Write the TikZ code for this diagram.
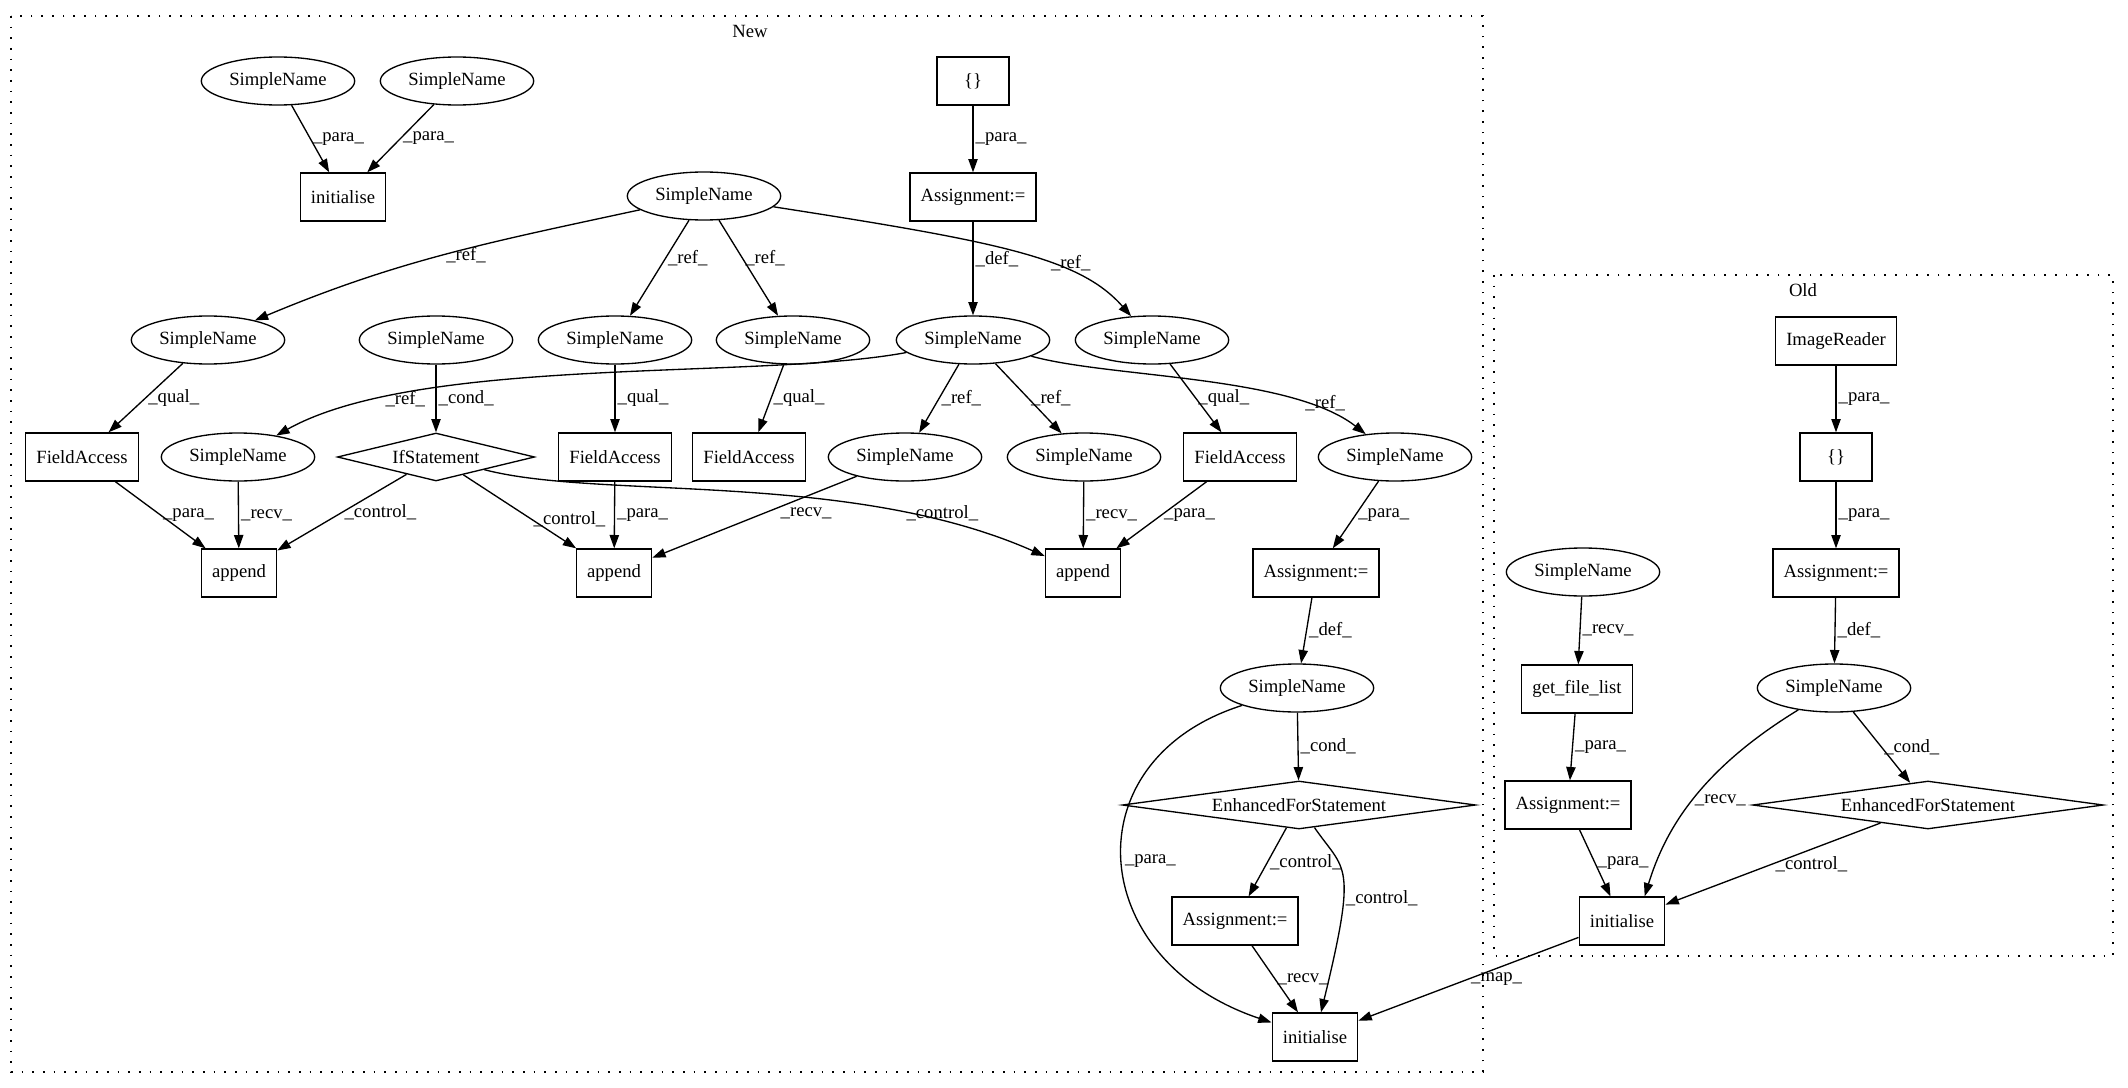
\documentclass[tikz,border=0pt]{standalone}
\usepackage{fontspec}
\setmainfont{Liberation Serif}
\usetikzlibrary{ shapes.geometric, % For ellipse and diamond
                 arrows.meta,      % For the filled arrow tips
               }

\tikzset{
  sname/.style={ellipse, draw, minimum width=115pt, minimum height=36pt, inner sep=0pt},
  stmt/.style={rectangle, draw, minimum width=54pt, minimum height=36pt, inner xsep=8pt, inner ysep=0pt},
  cstmt/.style={diamond, draw, aspect=6, inner sep=0pt, minimum height=36pt},
  conn/.style={draw, -{Triangle[length=10pt,width=7pt]}},
  lbl/.style={anchor=west, inner sep=1.5pt},
  cluster/.style={draw, dash pattern=on 1.2pt off 6.8pt},
}

\begin{document}
\begin{tikzpicture}[x=0.75pt, y=-0.75pt, line width=1pt, font=\fontsize{14}{16}\selectfont] % coordinates in pixels
  \useasboundingbox (0,0) rectangle (2128,1088);

  % the two clusters
  \draw[cluster] (11,16) rectangle (1483,1072);
  \node (newlab) at (750,31) {New};
  \draw[cluster] (1494,275) rectangle (2113,956);
  \node (oldlab) at (1803,290) {Old};

  % New
  \node[sname] (sna) at (278,81) {SimpleName};
  \node[sname] (snb) at (457,81) {SimpleName};
  \node[stmt] (inittop) at (343,197) {initialise};
  \node[stmt] (braces) at (973,81) {\{\}};
  \node[stmt] (assign) at (973,197) {Assignment:=};
  \node[sname] (hub) at (704,196) {SimpleName};

  \node[sname] (snd) at (208,340) {SimpleName};
  \node[sname] (cond) at (436,340) {SimpleName};
  \node[sname] (snf) at (615,340) {SimpleName};
  \node[sname] (sng) at (793,340) {SimpleName};
  \node[sname] (def) at (973,340) {SimpleName};
  \node[sname] (snj) at (1152,340) {SimpleName};

  \node[stmt] (fa1) at (82,457) {FieldAccess};
  \node[sname] (recva) at (238,457) {SimpleName};
  \node[cstmt, minimum width=148pt] (ifst) at (436,457) {IfStatement};
  \node[stmt] (fa2) at (615,457) {FieldAccess};
  \node[stmt] (fa3) at (749,457) {FieldAccess};
  \node[sname] (recvb) at (905,457) {SimpleName};
  \node[sname] (recvc) at (1084,457) {SimpleName};
  \node[stmt] (fa4) at (1240,457) {FieldAccess};
  \node[sname] (loopsrc) at (1395,457) {SimpleName};

  \node[stmt] (app1) at (239,573) {append};
  \node[stmt] (app2) at (614,573) {append};
  \node[stmt] (app3) at (1083,573) {append};
  \node[stmt] (assigntwo) at (1316,573) {Assignment:=};

  \node[sname] (loopvar) at (1297,688) {SimpleName};
  \node[cstmt, minimum width=265pt] (forst) at (1299,805) {EnhancedForStatement};
  \node[stmt] (assignthree) at (1235,921) {Assignment:=};
  \node[stmt] (initbot) at (1315,1037) {initialise};

  % Old
  \node[stmt] (reader) at (1836,341) {ImageReader};
  \node[stmt] (obraces) at (1836,457) {\{\}};
  \node[stmt] (oassign) at (1836,573) {Assignment:=};
  \node[sname] (orecv) at (1583,572) {SimpleName};
  \node[sname] (ovar) at (1834,688) {SimpleName};
  \node[stmt] (filelist) at (1577,689) {get\_file\_list};
  \node[stmt] (oassigntwo) at (1568,805) {Assignment:=};
  \node[cstmt, minimum width=263pt] (oforst) at (1928,805) {EnhancedForStatement};
  \node[stmt] (oinit) at (1622,921) {initialise};

  \draw[conn] (sna) -- node[lbl] {\_para\_} (inittop);
  \draw[conn] (snb) -- node[lbl] {\_para\_} (inittop);
  \draw[conn] (braces) -- node[lbl] {\_para\_} (assign);
  \draw[conn] (assign) -- node[lbl, pos=.4] {\_def\_} (def);
  \draw[conn] (hub) .. controls (486,243) and (399,260) .. node[lbl] {\_ref\_} (snd);
  \draw[conn] (hub) -- node[lbl, pos=.4] {\_ref\_} (snf);
  \draw[conn] (hub) -- node[lbl, pos=.4] {\_ref\_} (sng);
  \draw[conn] (hub) .. controls (1000,242) and (1080,258) .. node[lbl, pos=.6] {\_ref\_} (snj);
  \draw[conn] (snd) -- node[lbl] {\_qual\_} (fa1);
  \draw[conn] (cond) -- node[lbl] {\_cond\_} (ifst);
  \draw[conn] (snf) -- node[lbl] {\_qual\_} (fa2);
  \draw[conn] (sng) -- node[lbl] {\_qual\_} (fa3);
  \draw[conn] (snj) -- node[lbl] {\_qual\_} (fa4);
  \draw[conn] (def) .. controls (760,380) and (420,355) .. node[lbl, pos=.8] {\_ref\_} (recva);
  \draw[conn] (def) -- node[lbl] {\_ref\_} (recvb);
  \draw[conn] (def) -- node[lbl] {\_ref\_} (recvc);
  \draw[conn] (def) .. controls (1110,378) and (1290,375) .. node[lbl, pos=.78] {\_ref\_} (loopsrc);
  \draw[conn] (fa1) -- node[lbl] {\_para\_} (app1);
  \draw[conn] (recva) -- node[lbl] {\_recv\_} (app1);
  \draw[conn] (ifst) -- node[lbl] {\_control\_} (app1);
  \draw[conn] (ifst) -- node[lbl, pos=.6] {\_control\_} (app2);
  \draw[conn] (fa2) -- node[lbl] {\_para\_} (app2);
  \draw[conn] (recvb) -- node[lbl, pos=.45, xshift=10pt] {\_recv\_} (app2);
  \draw[conn] (ifst) .. controls (600,500) and (850,470) .. node[lbl, pos=.77] {\_control\_} (app3);
  \draw[conn] (recvc) -- node[lbl] {\_recv\_} (app3);
  \draw[conn] (fa4) -- node[lbl] {\_para\_} (app3);
  \draw[conn] (loopsrc) -- node[lbl] {\_para\_} (assigntwo);
  \draw[conn] (assigntwo) -- node[lbl] {\_def\_} (loopvar);
  \draw[conn] (loopvar) -- node[lbl] {\_cond\_} (forst);
  \draw[conn] (loopvar) .. controls (1070,760) and (1085,960) .. node[lbl] {\_para\_} (initbot);
  \draw[conn] (forst) -- node[lbl] {\_control\_} (assignthree);
  \draw[conn] (forst) .. controls (1345,872) and (1358,860) .. node[lbl, pos=.62] {\_control\_} (initbot);
  \draw[conn] (assignthree) -- node[lbl] {\_recv\_} (initbot);

  \draw[conn] (reader) -- node[lbl] {\_para\_} (obraces);
  \draw[conn] (obraces) -- node[lbl] {\_para\_} (oassign);
  \draw[conn] (oassign) -- node[lbl] {\_def\_} (ovar);
  \draw[conn] (ovar) -- node[lbl] {\_cond\_} (oforst);
  \draw[conn] (ovar) .. controls (1700,770) and (1665,830) .. node[lbl] {\_recv\_} ([xshift=17pt]oinit.north);
  \draw[conn] (orecv) -- node[lbl] {\_recv\_} (filelist);
  \draw[conn] (filelist) -- node[lbl] {\_para\_} (oassigntwo);
  \draw[conn] (oassigntwo) -- node[lbl] {\_para\_} (oinit);
  \draw[conn] (oforst) -- node[lbl] {\_control\_} (oinit);
  \draw[conn] (oinit) -- node[lbl] {\_map\_} (initbot);

\end{tikzpicture}
\end{document}
